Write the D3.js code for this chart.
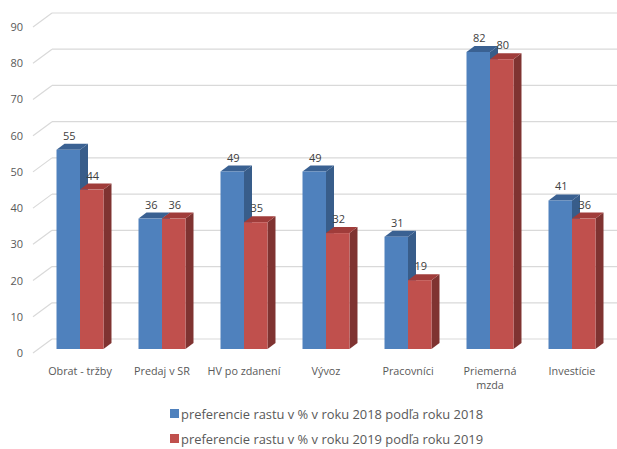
<!DOCTYPE html>
<html><head><meta charset="utf-8">
<script src="https://cdn.jsdelivr.net/npm/d3@7"></script>
<style>body{margin:0;background:#fff}svg{display:block}text{font-family:"Open Sans","Noto Sans",sans-serif}</style>
</head><body>
<svg id="c" width="617" height="449"></svg>
<script>
const categories = ["Obrat - tržby","Predaj v SR","HV po zdanení","Vývoz","Pracovníci","Priemerná mzda","Investície"];
const values2018 = [55,36,49,49,31,82,41];
const values2019 = [44,36,35,32,19,80,36];
const seriesNames = ["preferencie rastu v % v roku 2018 podľa roku 2018","preferencie rastu v % v roku 2019 podľa roku 2019"];
const yTicks = [0,10,20,30,40,50,60,70,80,90];

const svg = d3.select("#c");
const y = d3.scaleLinear().domain([0,90]).range([353,27]);
const x = d3.scaleBand().domain(categories).range([39,613]).paddingInner(0.427).paddingOuter(0.2135);
const xs = d3.scaleBand().domain([0,1]).range([0,x.bandwidth()]);
const wall = {dx:19, dy:-14};
const barOff = {dx:0, dy:-4};
const depth = {dx:8, dy:-6};
const x0 = 33;

const g = svg.append("g");
yTicks.forEach(t=>{
  const yy = y(t);
  g.append("line").attr("x1",x0).attr("y1",yy).attr("x2",x0+wall.dx).attr("y2",yy+wall.dy)
    .attr("stroke","#d9d9d9").attr("stroke-width",1.2);
  g.append("line").attr("x1",x0+wall.dx).attr("y1",yy+wall.dy).attr("x2",617).attr("y2",yy+wall.dy)
    .attr("stroke","#d9d9d9").attr("stroke-width",1.2);
  g.append("text").attr("x",23).attr("y",yy+4).attr("text-anchor","end")
    .attr("font-size",11).attr("fill","#595959").text(t);
});

const colors = [
  {front:"#4f81bd", top:"#3a6192", side:"#385d8a"},
  {front:"#c0504d", top:"#a03c3a", side:"#7f3331"}
];
const series = [values2018, values2019];

categories.forEach((c,i)=>{
  [0,1].forEach(s=>{
    const v = series[s][i];
    const bx = x(c) + xs(s);
    const w = xs.bandwidth();
    const yb = y(0) + barOff.dy;
    const yt = y(v) + barOff.dy;
    const col = colors[s];
    svg.append("path").attr("d",`M${bx+w},${yb}L${bx+w+depth.dx},${yb+depth.dy}L${bx+w+depth.dx},${yt+depth.dy}L${bx+w},${yt}Z`).attr("fill",col.side);
    svg.append("path").attr("d",`M${bx},${yt}L${bx+depth.dx},${yt+depth.dy}L${bx+w+depth.dx},${yt+depth.dy}L${bx+w},${yt}Z`).attr("fill",col.top);
    svg.append("rect").attr("x",bx).attr("y",yt).attr("width",w).attr("height",yb-yt).attr("fill",col.front);
  });
});
categories.forEach((c,i)=>{
  [0,1].forEach(s=>{
    const v = series[s][i];
    const bx = x(c) + xs(s) + xs.bandwidth()/2 + 1;
    svg.append("text").attr("x",bx).attr("y",y(v)+barOff.dy-10).attr("text-anchor","middle")
      .attr("font-size",11).attr("fill","#404040").text(v);
  });
});

categories.forEach(c=>{
  const cx = x(c) + x.bandwidth()/2;
  const parts = c==="Priemerná mzda" ? ["Priemerná","mzda"] : [c];
  parts.forEach((p,k)=>{
    svg.append("text").attr("x",cx).attr("y",375+k*14).attr("text-anchor","middle")
      .attr("font-size",10.8).attr("fill","#595959").text(p);
  });
});

seriesNames.forEach((n,k)=>{
  const ly = 414 + k*25;
  svg.append("rect").attr("x",170).attr("y",ly-5).attr("width",9).attr("height",9).attr("fill",colors[k].front);
  svg.append("text").attr("x",181).attr("y",ly+4.5).attr("font-size",12.9).attr("fill","#595959").text(n);
});
</script>
</body></html>
